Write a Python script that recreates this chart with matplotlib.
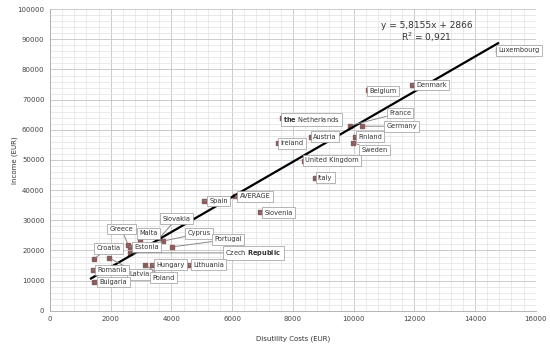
import numpy as np
import matplotlib
matplotlib.use('Agg')
import matplotlib.pyplot as plt
from matplotlib.ticker import MultipleLocator

# data
countries = ['Luxembourg', 'Denmark', 'Belgium', 'the Netherlands', 'France', 'Germany',
             'Austria', 'Finland', 'Sweden', 'Ireland', 'United Kingdom', 'Italy',
             'AVERAGE', 'Spain', 'Slovenia', 'Slovakia', 'Cyprus', 'Malta', 'Greece',
             'Estonia', 'Portugal', 'Czech Republic', 'Croatia', 'Latvia', 'Hungary',
             'Poland', 'Lithuania', 'Romania', 'Bulgaria']
disutility = [14760, 11920, 10480, 7650, 9880, 10270,
              8590, 10050, 9980, 7520, 8380, 8730,
              6100, 5070, 6920, 3600, 3720, 2950, 2580,
              2630, 4030, 2620, 1440, 1950, 3350,
              3130, 4560, 1400, 1450]
income = [86400, 74900, 73100, 63800, 61400, 61200,
          57700, 57700, 55700, 55700, 49800, 44100,
          38100, 36500, 32600, 24000, 23100, 23400, 21800,
          21300, 21200, 19200, 17200, 17500, 15250,
          15250, 15250, 13500, 9600]
slope, intercept = 5.8155, 2866

# where each label box sits (layout only)
label_pos = {
    'Luxembourg': (15460, 86400), 'Denmark': (12570, 74900), 'Belgium': (10980, 72900),
    'the Netherlands': (8620, 63400), 'France': (11530, 65600), 'Germany': (11580, 61200),
    'Austria': (9060, 57700), 'Finland': (10540, 57700), 'Sweden': (10700, 53300),
    'Ireland': (7960, 55500), 'United Kingdom': (9280, 49850), 'Italy': (9060, 44100),
    'AVERAGE': (6750, 38000), 'Spain': (5550, 36400), 'Slovenia': (7540, 32500),
    'Slovakia': (4170, 30600), 'Cyprus': (4910, 25650), 'Malta': (3240, 25650),
    'Greece': (2350, 27100), 'Estonia': (3180, 21200), 'Portugal': (5870, 23650),
    'Czech Republic': (6700, 19200), 'Croatia': (1920, 20700), 'Latvia': (2960, 12100),
    'Hungary': (3980, 15250), 'Poland': (3730, 10950), 'Lithuania': (5220, 15250),
    'Romania': (2030, 13500), 'Bulgaria': (2090, 9600),
}
display = {'the Netherlands': r'$\bf{the}$ Netherlands',
           'Czech Republic': r'Czech $\bf{Republic}$'}

fig = plt.figure(figsize=(5.5, 3.52), dpi=100)
ax = fig.add_axes([0.091, 0.117, 0.883, 0.857])

ax.set_xlim(0, 16000)
ax.set_ylim(0, 100000)
ax.xaxis.set_major_locator(MultipleLocator(2000))
ax.xaxis.set_minor_locator(MultipleLocator(400))
ax.yaxis.set_major_locator(MultipleLocator(10000))
ax.yaxis.set_minor_locator(MultipleLocator(2000))
ax.grid(which='major', color='#c4c4c4', lw=0.6)
ax.grid(which='minor', color='#e2e2e2', lw=0.5)
ax.set_axisbelow(True)
for s in ['top', 'right']:
    ax.spines[s].set_visible(False)
for s in ['left', 'bottom']:
    ax.spines[s].set_color('#aaaaaa')
    ax.spines[s].set_linewidth(0.6)
ax.tick_params(which='both', length=0, labelsize=5, labelcolor='#444444', pad=4)

ax.scatter(disutility, income, marker='s', s=11, color='#8a5c5c', zorder=3)

xs = np.array([min(disutility) - 50, max(disutility)])
ax.plot(xs, slope * xs + intercept, color='black', lw=1.6, zorder=4)

for name, x, y in zip(countries, disutility, income):
    tx, ty = label_pos[name]
    ax.annotate(display.get(name, name), xy=(x, y), xytext=(tx, ty),
                fontsize=4.8, color='#333333', ha='center', va='center', zorder=5,
                bbox=dict(boxstyle='square,pad=0.35', fc='white', ec='#999999', lw=0.5),
                arrowprops=dict(arrowstyle='-', color='#888888', lw=0.7,
                                shrinkA=0, shrinkB=2))

ax.text(12400, 94500, 'y = 5,8155x + 2866', fontsize=6.5, color='#333333', ha='center', va='center')
ax.text(12400, 90700, 'R$^2$ = 0,921', fontsize=6.5, color='#333333', ha='center', va='center')

ax.set_xlabel('Disutility Costs (EUR)', fontsize=5, color='#333333')
ax.set_ylabel('Income (EUR)', fontsize=5, color='#333333')
ax.xaxis.set_label_coords(0.5, -0.082)
ax.yaxis.set_label_coords(-0.066, 0.5)

fig.savefig('out.png', dpi=100)
